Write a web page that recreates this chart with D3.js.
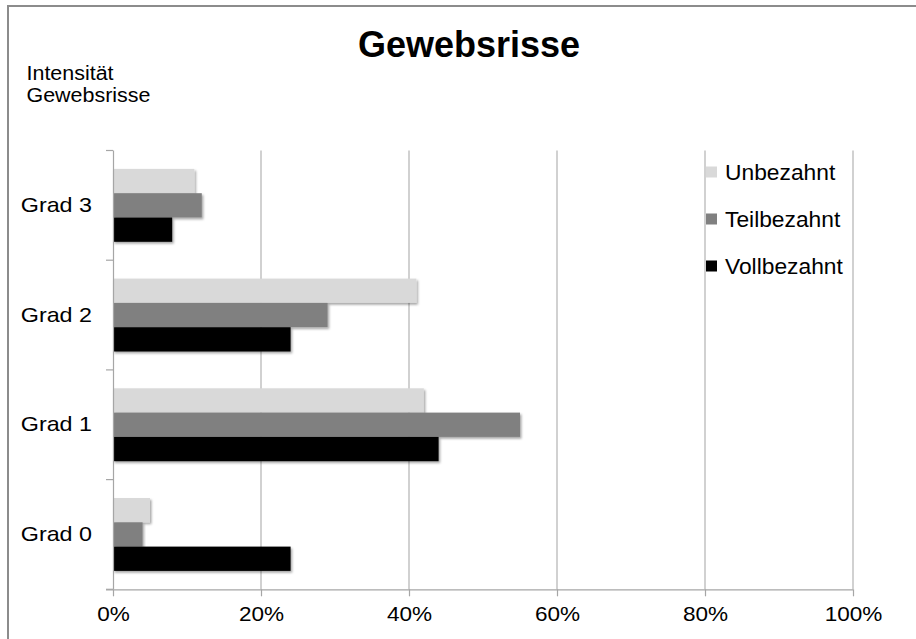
<!DOCTYPE html>
<html>
<head>
<meta charset="utf-8">
<script src="https://cdn.jsdelivr.net/npm/d3@7"></script>
<style>
  html, body { margin: 0; padding: 0; background: #fff; }
  svg { display: block; font-family: "Liberation Sans", Arial, sans-serif; }
</style>
</head>
<body>
<svg id="chart" width="916" height="639"></svg>
<script>
// ---- data ----
const categories = ["Grad 3", "Grad 2", "Grad 1", "Grad 0"];
const seriesNames = ["Unbezahnt", "Teilbezahnt", "Vollbezahnt"];
const unbezahnt   = [11, 41, 42, 5];
const teilbezahnt = [12, 29, 55, 4];
const vollbezahnt = [8, 24, 44, 24];
const xTickValues = [0, 20, 40, 60, 80, 100];
const xTickLabels = ["0%", "20%", "40%", "60%", "80%", "100%"];
const titleText = "Gewebsrisse";
const axisTitleLines = ["Intensität", "Gewebsrisse"];

const seriesValues = [unbezahnt, teilbezahnt, vollbezahnt];
const colors = ["#d9d9d9", "#808080", "#000000"];

// stretch text horizontally by a factor (reference glyphs are wider)
function stretch(sel, k) {
  sel.each(function () {
    const w = this.getComputedTextLength();
    d3.select(this).attr("textLength", w * k).attr("lengthAdjust", "spacingAndGlyphs");
  });
}

// ---- layout ----
const svg = d3.select("#chart");
const plot = { left: 113, right: 853, top: 150.5, bottom: 589.3 };

const defs = svg.append("defs");
const f = defs.append("filter").attr("id", "shadow")
  .attr("x", "-5%").attr("y", "-20%").attr("width", "115%").attr("height", "160%");
f.append("feDropShadow").attr("dx", 1.5).attr("dy", 1.8)
  .attr("stdDeviation", 1.2).attr("flood-color", "#000").attr("flood-opacity", 0.35);

// outer frame
svg.append("rect").attr("x", 8).attr("y", 6).attr("width", 1200).attr("height", 1200)
  .attr("fill", "none").attr("stroke", "#8c8c8c").attr("stroke-width", 2);

const x = d3.scaleLinear().domain([0, 100]).range([plot.left, plot.right]);
const y0 = d3.scaleBand().domain(categories).range([plot.top, plot.bottom]).padding(0);
const y1 = d3.scaleBand().domain(seriesNames).range([0, y0.bandwidth()])
  .paddingInner(0).paddingOuter(0.757);

// gridlines
svg.append("g").selectAll("line").data(xTickValues.slice(1)).join("line")
  .attr("x1", d => x(d)).attr("x2", d => x(d))
  .attr("y1", plot.top).attr("y2", plot.bottom)
  .attr("stroke", "#b3b3b3").attr("stroke-width", 1.2);

// bars
const groups = svg.append("g").selectAll("g").data(categories).join("g")
  .attr("transform", d => `translate(0,${y0(d)})`);
groups.selectAll("rect")
  .data((c, ci) => seriesNames.map((s, si) => ({ s, si, v: seriesValues[si][ci] })))
  .join("rect")
  .attr("x", x(0))
  .attr("y", d => y1(d.s))
  .attr("width", d => x(d.v) - x(0))
  .attr("height", y1.bandwidth())
  .attr("fill", d => colors[d.si])
  .attr("filter", "url(#shadow)");

// x axis
const xAxis = svg.append("g").attr("transform", `translate(0,${plot.bottom})`)
  .call(d3.axisBottom(x).tickValues(xTickValues)
    .tickFormat((d, i) => xTickLabels[i]).tickSize(7).tickSizeOuter(0).tickPadding(10));
xAxis.select(".domain").attr("stroke", "#a6a6a6").attr("stroke-width", 1.2)
  .attr("d", `M${plot.left - 7},0.5H${plot.right}`);
xAxis.selectAll(".tick line").attr("stroke", "#a6a6a6").attr("stroke-width", 1.2);
xAxis.selectAll(".tick text").attr("font-size", 20.5).attr("fill", "#000")
  .attr("font-family", "Liberation Sans, Arial, sans-serif").attr("dy", "0.72em")
  .call(stretch, 1.1);

// y axis
const yAxisScale = d3.scaleBand().domain(categories).range([plot.top, plot.bottom]).padding(0);
const yAxis = svg.append("g").attr("transform", `translate(${plot.left},0)`)
  .call(d3.axisLeft(yAxisScale).tickSize(0).tickPadding(21));
yAxis.select(".domain").attr("stroke", "#a6a6a6").attr("stroke-width", 1.2)
  .attr("d", `M0.5,${plot.top}V${plot.bottom}`);
yAxis.selectAll(".tick text").attr("font-size", 21).attr("fill", "#000")
  .attr("font-family", "Liberation Sans, Arial, sans-serif")
  .call(stretch, 1.11);
// boundary ticks
const boundaries = categories.map(c => y0(c)).concat([plot.bottom]);
svg.append("g").selectAll("line").data(boundaries).join("line")
  .attr("x1", plot.left - 7).attr("x2", plot.left)
  .attr("y1", d => d).attr("y2", d => d)
  .attr("stroke", "#a6a6a6").attr("stroke-width", 1.2);

// title
svg.append("text").attr("x", 469).attr("y", 57).attr("text-anchor", "middle")
  .attr("font-size", 36).attr("font-weight", "bold").attr("fill", "#000").text(titleText);

// axis title (top-left)
svg.append("g").selectAll("text").data(axisTitleLines).join("text")
  .attr("x", 26.5).attr("y", (d, i) => 80 + i * 21.7)
  .attr("font-size", 19.5).attr("fill", "#000").text(d => d)
  .call(stretch, 1.1);

// legend
const legend = svg.append("g").selectAll("g").data(seriesNames).join("g")
  .attr("transform", (d, i) => `translate(706,${166.5 + i * 47})`);
legend.append("rect").attr("width", 11).attr("height", 11).attr("fill", (d, i) => colors[i]);
legend.append("text").attr("x", 19).attr("y", 13.5)
  .attr("font-size", 21.5).attr("fill", "#000").text(d => d)
  .call(stretch, 1.06);
</script>
</body>
</html>
